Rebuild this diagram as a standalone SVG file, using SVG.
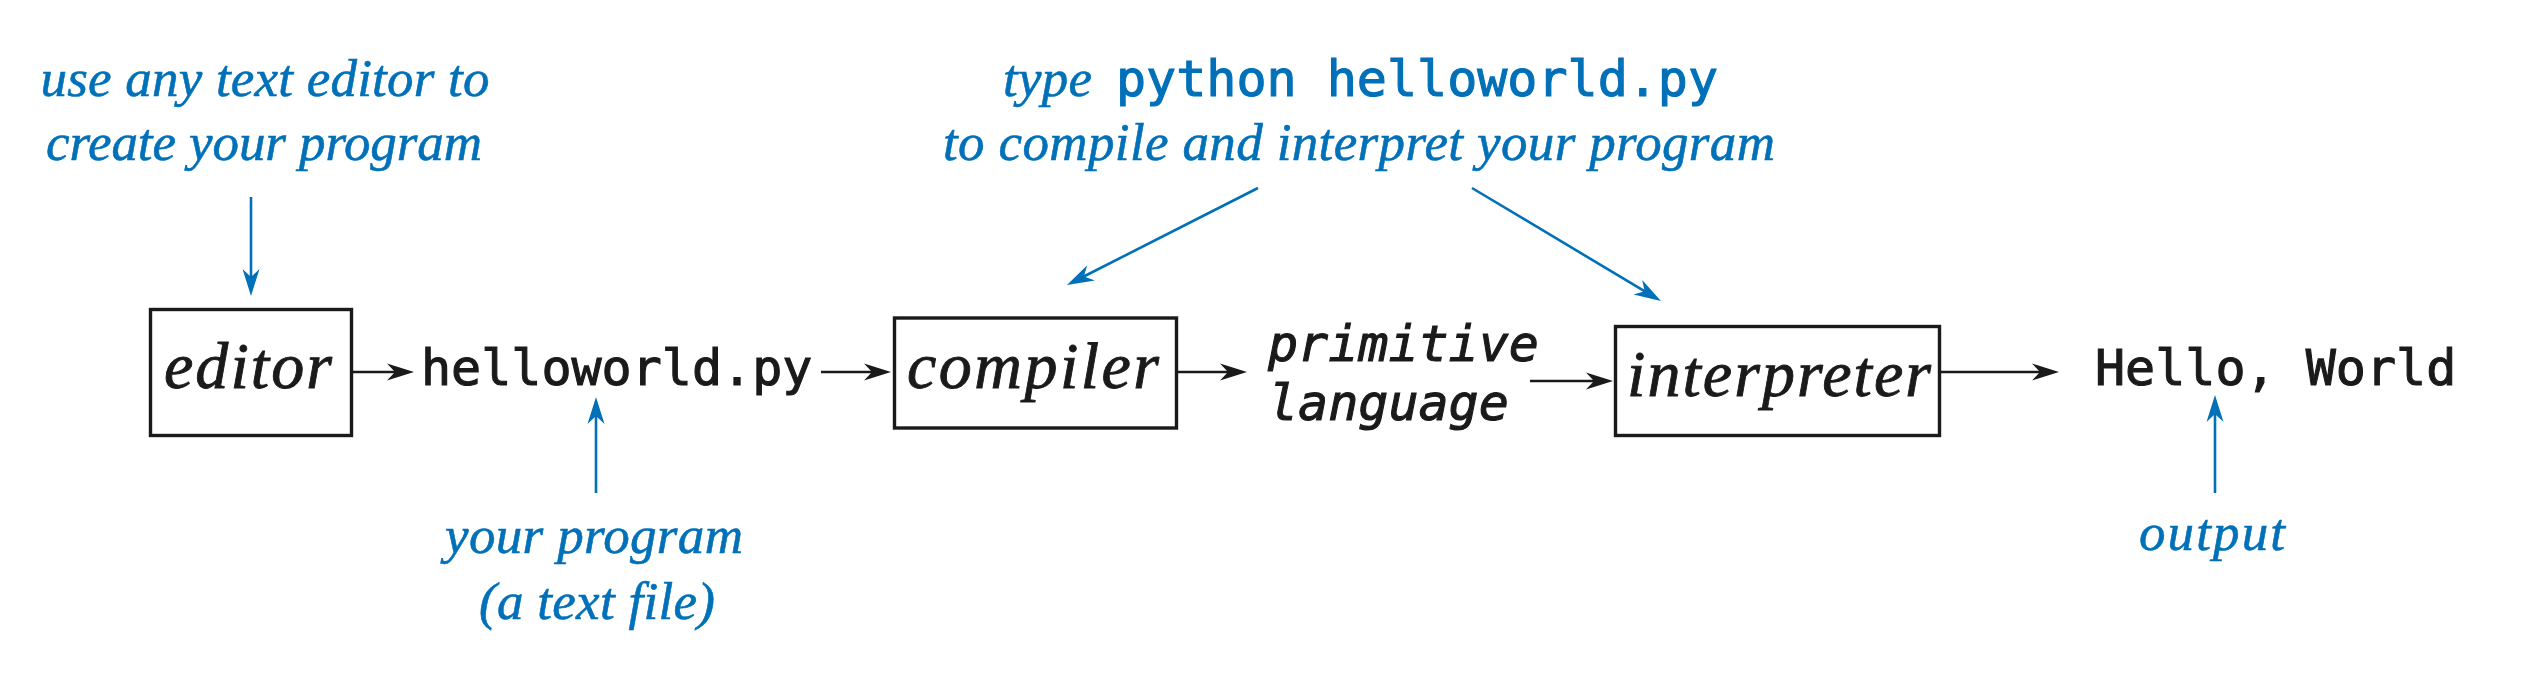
<svg xmlns="http://www.w3.org/2000/svg" width="2542" height="676" viewBox="0 0 2542 676">
<style>
.box{fill:none;stroke:#1a1a1a;stroke-width:3.4}
.lbl{font-family:"Liberation Serif",serif;font-style:italic;font-size:66px;fill:#1a1a1a;stroke:#1a1a1a;stroke-width:0.9;text-anchor:middle}
.mono{font-family:"DejaVu Sans Mono",monospace;font-size:50px;fill:#1a1a1a;stroke:#1a1a1a;stroke-width:1.1}
.obl{font-style:oblique}
.note{font-family:"Liberation Serif",serif;font-style:italic;font-size:53px;fill:#0070b8;stroke:#0070b8;stroke-width:0.6;text-anchor:middle}
.bmono{font-family:"DejaVu Sans Mono",monospace;font-size:50px;fill:#0070b8;stroke:#0070b8;stroke-width:1.1}
.k{fill:none;stroke:#1a1a1a;stroke-width:2.4}
.b{fill:none;stroke:#0070b8;stroke-width:2.6}
</style>
<defs>
<marker id="ak" markerUnits="userSpaceOnUse" orient="auto" refX="-10" refY="0" overflow="visible">
<path d="M0,0 L-27,-8.5 L-19,0 L-27,8.5 Z" fill="#1a1a1a"/>
</marker>
<marker id="ab" markerUnits="userSpaceOnUse" orient="auto" refX="-10" refY="0" overflow="visible">
<path d="M0,0 L-27,-8.5 L-19,0 L-27,8.5 Z" fill="#0070b8"/>
</marker>
</defs>
<rect width="2542" height="676" fill="#ffffff"/>
<g id="connectors">
<path class="k" d="M353,372 H404" marker-end="url(#ak)"/>
<path class="k" d="M821,372 H881" marker-end="url(#ak)"/>
<path class="k" d="M1178,372 H1237" marker-end="url(#ak)"/>
<path class="k" d="M1530,381 H1603" marker-end="url(#ak)"/>
<path class="k" d="M1941,372 H2049" marker-end="url(#ak)"/>
<path class="b" d="M251,197 V286" marker-end="url(#ab)"/>
<path class="b" d="M596,493 V407" marker-end="url(#ab)"/>
<path class="b" d="M2215,493 V405" marker-end="url(#ab)"/>
<path class="b" d="M1258,188 L1075.9,280.5" marker-end="url(#ab)"/>
<path class="b" d="M1472,188 L1652.4,295.9" marker-end="url(#ab)"/>
</g>
<g id="editor">
<rect class="box" x="150.5" y="309.5" width="201" height="126"/>
<text class="lbl" x="248" y="388" textLength="168">editor</text>
</g>
<g id="helloworld">
<text class="mono" x="421" y="385">helloworld.py</text>
</g>
<g id="compiler">
<rect class="box" x="894.5" y="318" width="282" height="110"/>
<text class="lbl" x="1033" y="388" textLength="252">compiler</text>
</g>
<g id="primitive">
<text class="mono obl" x="1268" y="361">primitive</text>
<text class="mono obl" x="1268" y="420">language</text>
</g>
<g id="interpreter">
<rect class="box" x="1615.5" y="326.5" width="324" height="109"/>
<text class="lbl" x="1779" y="396" textLength="304">interpreter</text>
</g>
<g id="output-text">
<text class="mono" x="2095" y="385">Hello, World</text>
</g>
<g id="note-editor">
<text class="note" x="265" y="96" textLength="449">use any text editor to</text>
<text class="note" x="264" y="160" textLength="436">create your program</text>
</g>
<g id="note-type">
<text class="note" x="1047.5" y="96" textLength="89">type</text>
<text class="bmono" x="1116" y="96">python helloworld.py</text>
<text class="note" x="1359" y="160" textLength="832">to compile and interpret your program</text>
</g>
<g id="note-program">
<text class="note" x="594" y="553" textLength="298">your program</text>
<text class="note" x="597" y="619" textLength="236">(a text file)</text>
</g>
<g id="note-output">
<text class="note" x="2212" y="550" textLength="146">output</text>
</g>
</svg>
